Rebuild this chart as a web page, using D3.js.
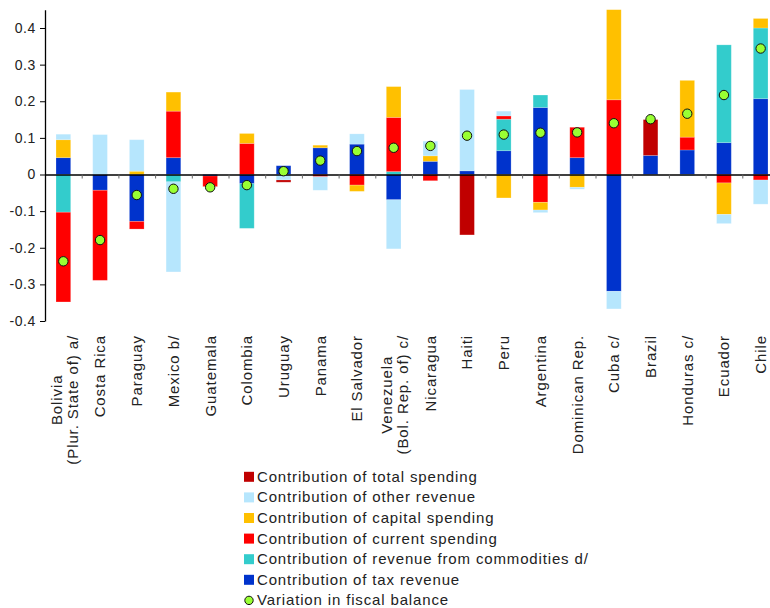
<!DOCTYPE html>
<html>
<head>
<meta charset="utf-8">
<script src="https://cdn.jsdelivr.net/npm/d3@7"></script>
<style>
  html, body { margin: 0; padding: 0; background: #fff; }
  svg { display: block; font-family: "Liberation Sans", Arial, sans-serif; }
</style>
</head>
<body>
<svg id="chart" width="770" height="608"></svg>
<script>
// Countries, each label split into its display lines
const countries = [
  ["Bolivia", "(Plur. State of) a/"], ["Costa Rica"], ["Paraguay"], ["Mexico b/"],
  ["Guatemala"], ["Colombia"], ["Uruguay"], ["Panama"], ["El Salvador"],
  ["Venezuela", "(Bol. Rep. of) c/"], ["Nicaragua"], ["Haiti"], ["Peru"],
  ["Argentina"], ["Dominican Rep."], ["Cuba c/"], ["Brazil"], ["Honduras c/"],
  ["Ecuador"], ["Chile"]
];

// Contributions (percentage points of GDP), stacked in this order
const taxRevenue      = [0.046, -0.043, -0.128, 0.046, -0.004, -0.025, 0.024, 0.073, 0.083, -0.069, 0.036, 0.010, 0.065, 0.183, 0.046, -0.319, 0.052, 0.067, 0.087, 0.207];
const commodityRevenue= [-0.103, 0, 0, -0.020, 0, -0.122, 0, 0, 0, 0.008, 0, 0, 0.086, 0.034, 0, 0, 0, 0, 0.267, 0.193];
const currentSpending = [-0.245, -0.246, -0.021, 0.127, -0.029, 0.085, 0, -0.006, -0.029, 0.148, -0.017, 0, 0.009, -0.076, 0.083, 0.204, 0, 0.035, -0.023, -0.015];
const capitalSpending = [0.049, 0, 0.009, 0.052, 0, 0.027, 0, 0.007, -0.017, 0.084, 0.015, 0, -0.064, -0.021, -0.035, 0.270, 0, 0.155, -0.086, 0.026];
const otherRevenue    = [0.015, 0.109, 0.086, -0.246, 0, 0, -0.015, -0.037, 0.028, -0.134, 0.040, 0.222, 0.013, -0.007, -0.005, -0.048, 0, -0.004, -0.025, -0.066];
const totalSpending   = [0, 0, 0, 0, 0, 0, -0.006, 0, 0, 0, 0, -0.165, 0, 0, 0, 0, 0.098, 0, 0, 0];
const fiscalBalance   = [-0.237, -0.179, -0.056, -0.039, -0.035, -0.029, 0.009, 0.038, 0.064, 0.073, 0.078, 0.106, 0.109, 0.114, 0.115, 0.140, 0.151, 0.166, 0.217, 0.344];

const yTicks = [-0.4, -0.3, -0.2, -0.1, 0, 0.1, 0.2, 0.3, 0.4];

const series = [
  { key: "tax",       name: "Contribution of tax revenue",                   color: "#0033CC", values: taxRevenue },
  { key: "commod",    name: "Contribution of revenue from commodities d/",   color: "#33CCCC", values: commodityRevenue },
  { key: "current",   name: "Contribution of current spending",              color: "#FF0000", values: currentSpending },
  { key: "capital",   name: "Contribution of capital spending",              color: "#FFC000", values: capitalSpending },
  { key: "other",     name: "Contribution of other revenue",                 color: "#B6E6FD", values: otherRevenue },
  { key: "total",     name: "Contribution of total spending",                color: "#C00000", values: totalSpending }
];

const table = countries.map((c, i) => {
  const row = { i };
  series.forEach(s => row[s.key] = s.values[i]);
  return row;
});

const svg = d3.select("#chart");
const plotLeft = 45, plotRight = 779, plotTop = 9.7, plotBottom = 321;

const x = d3.scaleBand().domain(d3.range(countries.length)).range([plotLeft, plotRight]).padding(0);
const y = d3.scaleLinear().domain([-0.4, 0.45]).range([plotBottom, plotTop]);
const barW = x.bandwidth() * 0.4;

svg.append("defs").append("clipPath").attr("id", "plotClip")
  .append("rect").attr("x", plotLeft).attr("y", plotTop)
  .attr("width", plotRight - plotLeft).attr("height", plotBottom - plotTop);

const stack = d3.stack().keys(series.map(s => s.key)).offset(d3.stackOffsetDiverging);
const stacked = stack(table);

const plot = svg.append("g").attr("clip-path", "url(#plotClip)");
plot.selectAll("g.layer").data(stacked).join("g")
  .attr("class", "layer")
  .attr("fill", (d, i) => series[i].color)
  .selectAll("rect").data(d => d.filter(p => p[1] - p[0] !== 0)).join("rect")
  .attr("x", d => x(d.data.i) + (x.bandwidth() - barW) / 2)
  .attr("width", barW)
  .attr("y", d => y(Math.max(d[0], d[1])))
  .attr("height", d => Math.abs(y(d[0]) - y(d[1])))
  .attr("stroke", "#fff").attr("stroke-opacity", 0.25).attr("stroke-width", 0.8);

// Category axis along zero with ticks between countries
const xb = d3.scaleLinear().domain([0, countries.length]).range([plotLeft, plotRight]);
const xAxis = svg.append("g").attr("transform", `translate(0,${y(0)})`)
  .call(d3.axisBottom(xb).tickValues(d3.range(1, countries.length)).tickSize(4).tickSizeOuter(0).tickFormat(""));
xAxis.select(".domain").attr("stroke", "#000").attr("stroke-width", 1.3);
xAxis.selectAll(".tick line").attr("stroke", "#666");

// Value axis
const yAxis = svg.append("g").attr("transform", `translate(${plotLeft},0)`)
  .call(d3.axisLeft(y).tickValues(yTicks).tickSize(5).tickSizeOuter(0).tickPadding(4)
    .tickFormat(d => String(+d.toFixed(1))));
yAxis.select(".domain").attr("stroke", "#000").attr("stroke-width", 1.3);
yAxis.selectAll(".tick line").attr("stroke", "#000");
yAxis.selectAll(".tick text").attr("font-size", 14).attr("fill", "#222")
  .attr("font-family", "'Liberation Sans', Arial, sans-serif").attr("letter-spacing", 0.6);

// Fiscal balance markers
svg.append("g").selectAll("circle").data(fiscalBalance).join("circle")
  .attr("cx", (d, i) => x(i) + x.bandwidth() / 2)
  .attr("cy", d => y(d))
  .attr("r", 4.7)
  .attr("fill", "#99FF33").attr("stroke", "#111").attr("stroke-width", 1);

// Rotated country labels
const labelTop = 335;
const labels = svg.append("g").attr("font-size", 15).attr("fill", "#222").attr("letter-spacing", 0.9);
countries.forEach((lines, i) => {
  const g = labels.append("g")
    .attr("transform", `translate(${x(i) + x.bandwidth() / 2},${labelTop}) rotate(-90)`);
  const texts = lines.map((t, k) => g.append("text")
    .attr("text-anchor", "middle")
    .attr("y", (k - (lines.length - 1) / 2) * 16.5 + (lines.length > 1 ? 1 : 0))
    .attr("dy", "0.36em")
    .text(t));
  const w = d3.max(texts, t => t.node().getComputedTextLength());
  texts.forEach(t => t.attr("x", -w / 2));
});

// Legend
const legendItems = series.slice().reverse().map(s => ({ name: s.name, color: s.color, type: "rect" }))
  .concat([{ name: "Variation in fiscal balance", color: "#99FF33", type: "circle" }]);
const legend = svg.append("g").attr("font-size", 15).attr("fill", "#222").attr("letter-spacing", 0.85);
legendItems.forEach((it, k) => {
  const cy = 476.8 + k * 20.6;
  if (it.type === "rect") {
    legend.append("rect").attr("x", 244).attr("y", cy - 5).attr("width", 10).attr("height", 10).attr("fill", it.color);
  } else {
    legend.append("circle").attr("cx", 249).attr("cy", cy).attr("r", 4.2)
      .attr("fill", it.color).attr("stroke", "#111").attr("stroke-width", 1);
  }
  legend.append("text").attr("x", 257).attr("y", cy + 5).text(it.name);
});
</script>
</body>
</html>
